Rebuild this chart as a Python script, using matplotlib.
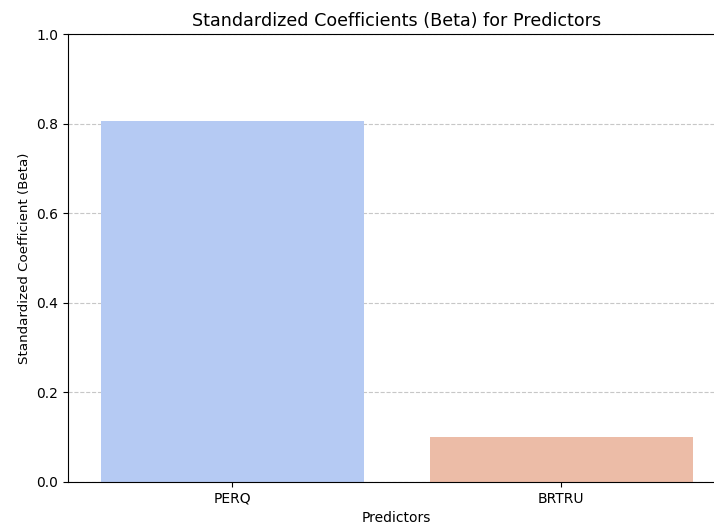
import matplotlib
matplotlib.use("Agg")
import matplotlib.pyplot as plt
import pandas as pd
import seaborn as sns

predictors = ["PERQ", "BRTRU"]
betas = [0.806, 0.100]

df = pd.DataFrame({"Predictor": predictors, "Beta": betas})

fig = plt.figure(figsize=(7.14, 5.25), dpi=100)
ax = fig.add_axes([0.095, 0.082, 0.921, 0.853])
sns.barplot(data=df, x="Predictor", y="Beta", hue="Predictor", palette="coolwarm",
            legend=False, ax=ax)
ax.set_ylim(0, 1.0)
ax.set_title("Standardized Coefficients (Beta) for Predictors", fontsize=12.6)
ax.set_xlabel("Predictors")
ax.set_ylabel("Standardized Coefficient (Beta)", fontsize=9.6)
ax.grid(axis="y", linestyle="--", alpha=0.7)
ax.set_axisbelow(True)

fig.savefig("out.png", dpi=100)
